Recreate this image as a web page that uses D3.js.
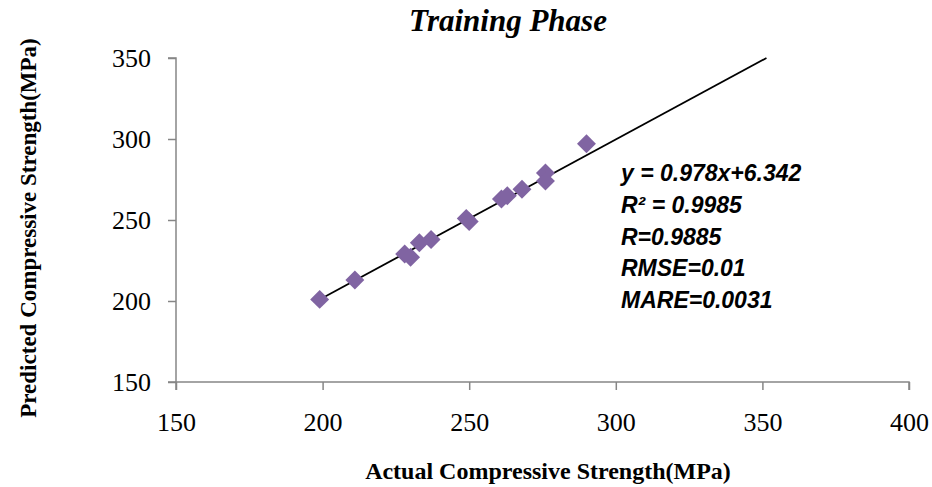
<!DOCTYPE html>
<html>
<head>
<meta charset="utf-8">
<script src="https://cdn.jsdelivr.net/npm/d3@7"></script>
<style>
  body { margin: 0; background: #fff; }
</style>
</head>
<body>
<script>
// actual vs predicted strength (MPa)
const actual    = [199, 211, 228, 230, 233, 237, 249, 250, 261, 263, 268, 276, 276, 290];
const predicted = [201, 213, 229, 227, 236, 238, 251, 249, 263, 265, 269, 279, 274, 297];
const ticks = [150, 200, 250, 300, 350, 400];
const yTicks = [150, 200, 250, 300, 350];
const slope = 0.978, intercept = 6.342;
const statLines = ["y = 0.978x+6.342", "R\u00b2 = 0.9985", "R=0.9885", "RMSE=0.01", "MARE=0.0031"];

var width = 932, height = 487;
var svg = d3.select("body").append("svg")
  .attr("width", width)
  .attr("height", height);

var x = d3.scaleLinear().domain([150, 400]).range([176, 909]);
var y = d3.scaleLinear().domain([150, 350]).range([382, 58]);

var axisColor = "#868686";
var serif = "'Liberation Serif', 'Times New Roman', serif";

// x axis
var gx = svg.append("g").attr("transform", `translate(0,${y(150)})`)
  .call(d3.axisBottom(x).tickValues(ticks).tickSize(8).tickPadding(23).tickFormat(d3.format("d")));
// y axis
var gy = svg.append("g").attr("transform", `translate(${x(150)},0)`)
  .call(d3.axisLeft(y).tickValues(yTicks).tickSize(8).tickPadding(17).tickFormat(d3.format("d")));

[gx, gy].forEach(function(g) {
  g.select(".domain").attr("stroke", axisColor).attr("stroke-width", 1.5);
  g.selectAll(".tick line").attr("stroke", axisColor).attr("stroke-width", 1.5);
  g.selectAll(".tick text")
    .attr("fill", "#000")
    .style("font-family", serif)
    .style("font-size", "26px");
});
gx.select(".domain").attr("d", `M${x(150)},8V0H${x(400)}V8`);
gy.select(".domain").attr("d", `M-8,${y(350)}H0V${y(150)}H-8`);

// trend line: from first point up to the top of the plot
var xStart = d3.min(actual);
var xEnd = (350 - intercept) / slope;
svg.append("line")
  .attr("x1", x(xStart)).attr("y1", y(slope * xStart + intercept))
  .attr("x2", x(xEnd)).attr("y2", y(slope * xEnd + intercept))
  .attr("stroke", "#000")
  .attr("stroke-width", 1.8);

// diamond markers
var diamond = d3.symbol().type(d3.symbolSquare).size(180);
svg.append("g").selectAll("path")
  .data(actual)
  .enter().append("path")
  .attr("d", diamond)
  .attr("transform", function(d, i) { return `translate(${x(d)},${y(predicted[i])}) rotate(45)`; })
  .attr("fill", "#8064a2");

// title
svg.append("text")
  .attr("x", 508).attr("y", 31)
  .attr("text-anchor", "middle")
  .style("font-family", serif)
  .style("font-weight", "bold")
  .style("font-style", "italic")
  .style("font-size", "31px")
  .text("Training Phase");

// axis titles
svg.append("text")
  .attr("x", 548).attr("y", 479)
  .attr("text-anchor", "middle")
  .style("font-family", serif)
  .style("font-weight", "bold")
  .style("font-size", "24px")
  .text("Actual Compressive Strength(MPa)");

svg.append("text")
  .attr("transform", "translate(36,228) rotate(-90)")
  .attr("text-anchor", "middle")
  .style("font-family", serif)
  .style("font-weight", "bold")
  .style("font-size", "23px")
  .text("Predicted Compressive Strength(MPa)");

// stats annotation
svg.append("g").selectAll("text")
  .data(statLines)
  .enter().append("text")
  .attr("x", 621)
  .attr("y", function(d, i) { return 181 + i * 31.8; })
  .style("font-family", "'Liberation Sans', Arial, sans-serif")
  .style("font-weight", "bold")
  .style("font-style", "italic")
  .style("font-size", "23px")
  .text(function(d) { return d; });
</script>
</body>
</html>
